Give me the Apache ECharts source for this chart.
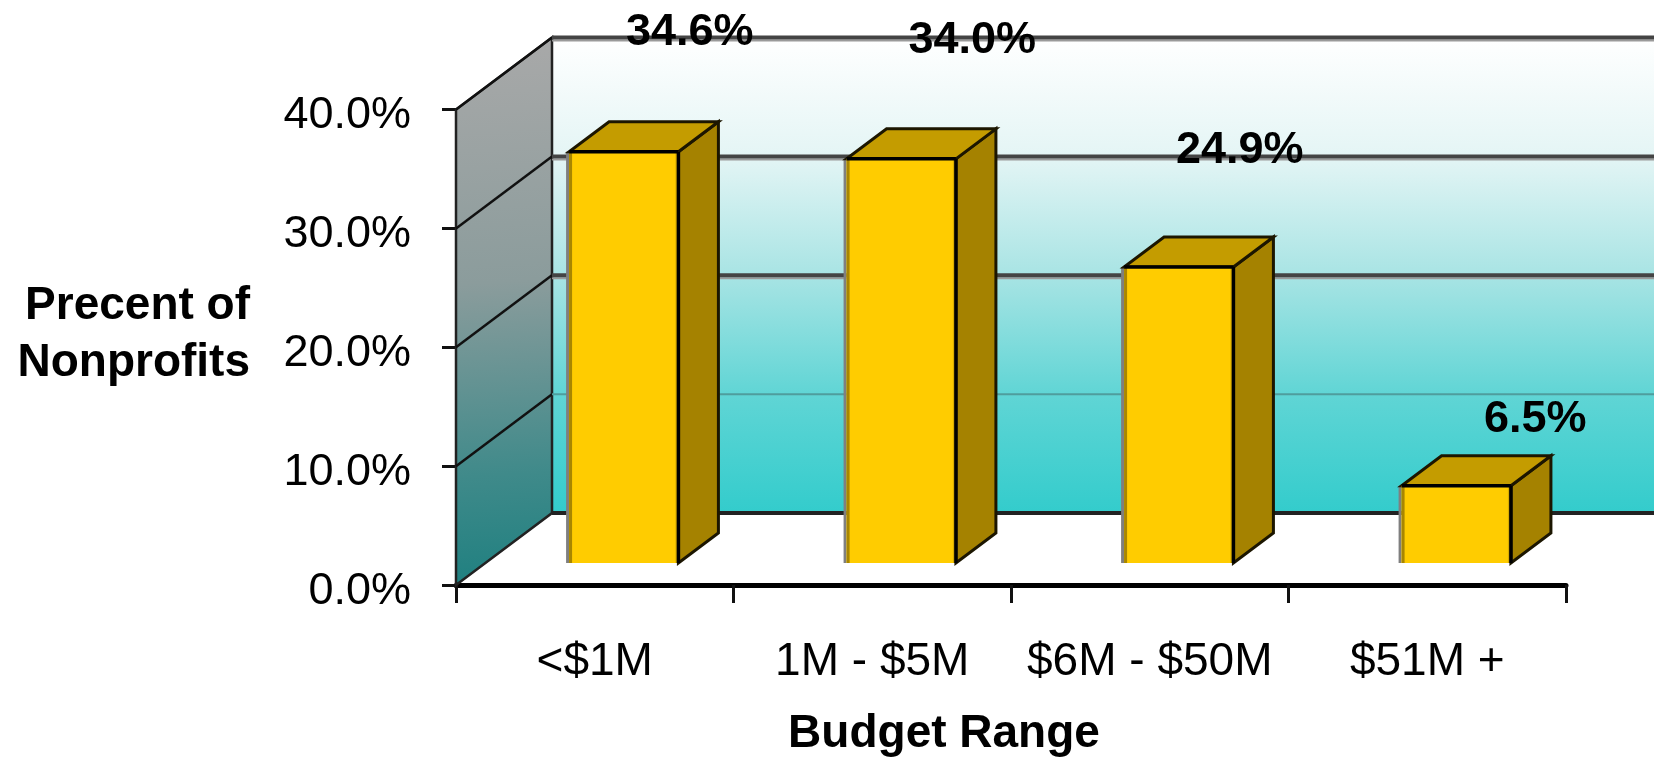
<!DOCTYPE html>
<html><head><meta charset="utf-8">
<style>html,body{margin:0;padding:0;background:#fff}#c{width:1654px;height:758px}</style>
<script src="https://cdn.jsdelivr.net/npm/echarts@6/dist/echarts.min.js"></script>
</head><body><div id="c"></div>
<script>
const categories = ['<$1M', '1M - $5M', '$6M - $50M', '$51M +'];
const percents = [34.6, 34.0, 24.9, 6.5];
const wallTicks = [10, 20, 30, 40];
const FONT = '"Liberation Sans", Arial, sans-serif';

const chart = echarts.init(document.getElementById('c'));
const WALL_DX = 96, WALL_DY = -72, BAR_DX = 29, BAR_DY = -22, SIDE_DX = 40, SIDE_DY = -30;
const LABEL_SHIFT = [[66, -119], [71, -118], [61, -116], [79, -66]];

function renderWalls(params, api) {
  const p0 = api.coord([0, 0]);
  const p40 = api.coord([0, 40]);
  const xl = params.coordSys.x;
  const bx = xl + WALL_DX, by = p0[1] + WALL_DY, ty = p40[1] + WALL_DY;
  const children = [];
  children.push({type: 'rect', shape: {x: bx, y: ty, width: 1654 - bx, height: by - ty},
    style: {fill: new echarts.graphic.LinearGradient(0, 0, 0, 1, [
      {offset: 0, color: '#ffffff'}, {offset: 0.25, color: '#e4f5f5'},
      {offset: 0.5, color: '#a8e4e4'}, {offset: 0.75, color: '#60d5d5'},
      {offset: 1, color: '#33cccc'}])}});
  children.push({type: 'polygon', shape: {points: [[xl, p0[1]], [xl, p40[1]], [bx, ty], [bx, by]]},
    style: {fill: new echarts.graphic.LinearGradient(0, 0, 0.35, 1, [
      {offset: 0, color: '#a9a9a9'}, {offset: 0.45, color: '#8b9c9c'},
      {offset: 0.8, color: '#3f8a8a'}, {offset: 1, color: '#1f8080'}]),
      stroke: '#222', lineWidth: 2.5}});
  wallTicks.forEach(function (v) {
    const y = api.coord([0, v])[1];
    const major = v !== 10;
    children.push({type: 'line', shape: {x1: xl, y1: y, x2: bx, y2: y + WALL_DY},
      style: {stroke: '#111', lineWidth: 2.5}});
    if (major) {
      children.push({type: 'line', shape: {x1: bx, y1: y + WALL_DY + 3, x2: 1654, y2: y + WALL_DY + 3},
        style: {stroke: '#9a9a9a', lineWidth: 2}});
    }
    children.push({type: 'line', shape: {x1: bx, y1: y + WALL_DY, x2: 1654, y2: y + WALL_DY},
      style: {stroke: major ? '#444' : '#4f9d9d', lineWidth: major ? 4 : 2}});
  });
  children.push({type: 'line', shape: {x1: bx, y1: by, x2: 1654, y2: by},
    style: {stroke: '#222', lineWidth: 4}});
  return {type: 'group', silent: true, children: children};
}

function renderBars(params, api) {
  const i = api.value(0), v = api.value(1);
  const base = api.coord([i, 0]), top = api.coord([i, v]);
  const w = api.size([1, 0])[0] * 0.394;
  const x0 = base[0] - w / 2 + BAR_DX, x1 = x0 + w;
  const yb = base[1] + BAR_DY, yt = top[1] + BAR_DY;
  const shift = LABEL_SHIFT[i];
  return {type: 'group', children: [
    {type: 'rect', shape: {x: x0 - 3, y: yt, width: 3, height: yb - yt}, style: {fill: '#7f7f7f'}},
    {type: 'polygon', shape: {points: [[x1, yb], [x1, yt], [x1 + SIDE_DX, yt + SIDE_DY], [x1 + SIDE_DX, yb + SIDE_DY]]},
      style: {fill: '#a58200', stroke: '#1c1600', lineWidth: 3}},
    {type: 'polygon', shape: {points: [[x0, yt], [x1, yt], [x1 + SIDE_DX, yt + SIDE_DY], [x0 + SIDE_DX, yt + SIDE_DY]]},
      style: {fill: '#c49c00', stroke: '#1c1600', lineWidth: 3}},
    {type: 'rect', shape: {x: x0, y: yt, width: w, height: yb - yt}, style: {fill: '#ffcc00'}},
    {type: 'rect', shape: {x: x0, y: yt, width: 3, height: yb - yt}, style: {fill: '#a88600'}},
    {type: 'rect', shape: {x: x1 - 3, y: yt, width: 3, height: yb - yt}, style: {fill: '#d9ad00'}},
    {type: 'line', shape: {x1: x0, y1: yt, x2: x1, y2: yt}, style: {stroke: '#000', lineWidth: 3.5}},
    {type: 'line', shape: {x1: x1, y1: yt, x2: x1, y2: yb}, style: {stroke: '#000', lineWidth: 3.5}},
    {type: 'text', style: {text: v.toFixed(1) + '%', x: x0 + w / 2 + shift[0], y: yt + shift[1],
      align: 'center', verticalAlign: 'middle', fill: '#000',
      font: 'bold 45px ' + FONT}}
  ]};
}

chart.setOption({
  animation: false,
  grid: {left: 456, right: 88, top: 109.5, bottom: 173, containLabel: false, outerBoundsMode: 'none'},
  xAxis: {
    type: 'category', data: categories,
    name: 'Budget Range', nameLocation: 'middle', nameGap: 126,
    nameTextStyle: {fontFamily: FONT, fontWeight: 'bold', fontSize: 46, color: '#000', padding: [0, 134, 0, 0]},
    axisLine: {lineStyle: {color: '#000', width: 5}},
    axisTick: {show: true, interval: 0, length: 18, lineStyle: {color: '#111', width: 3}},
    axisLabel: {interval: 0, hideOverlap: false, fontFamily: FONT, fontSize: 46, color: '#000', margin: 54}
  },
  yAxis: {
    type: 'value', min: 0, max: 40, interval: 10,
    name: 'Precent of\nNonprofits', nameLocation: 'middle', nameRotate: 0, nameGap: 206,
    nameTextStyle: {fontFamily: FONT, fontWeight: 'bold', fontSize: 46, lineHeight: 57, color: '#000', align: 'right', verticalAlign: 'bottom', padding: [0, 0, -45, 0]},
    axisLine: {show: true, lineStyle: {color: '#111', width: 3}},
    axisTick: {show: true, length: 14, lineStyle: {color: '#111', width: 3}},
    splitLine: {show: false},
    axisLabel: {fontFamily: FONT, fontSize: 45, color: '#000', margin: 45, verticalAlign: 'top', lineHeight: 13, formatter: function (v) { return v.toFixed(1) + '%'; }}
  },
  series: [
    {type: 'custom', clip: false, z: 1, silent: true, renderItem: renderWalls, data: [[0, 0]]},
    {type: 'custom', clip: false, z: 3, renderItem: renderBars, encode: {x: 0, y: 1},
     data: percents.map(function (p, i) { return [i, p]; })}
  ]
});
</script></body></html>
